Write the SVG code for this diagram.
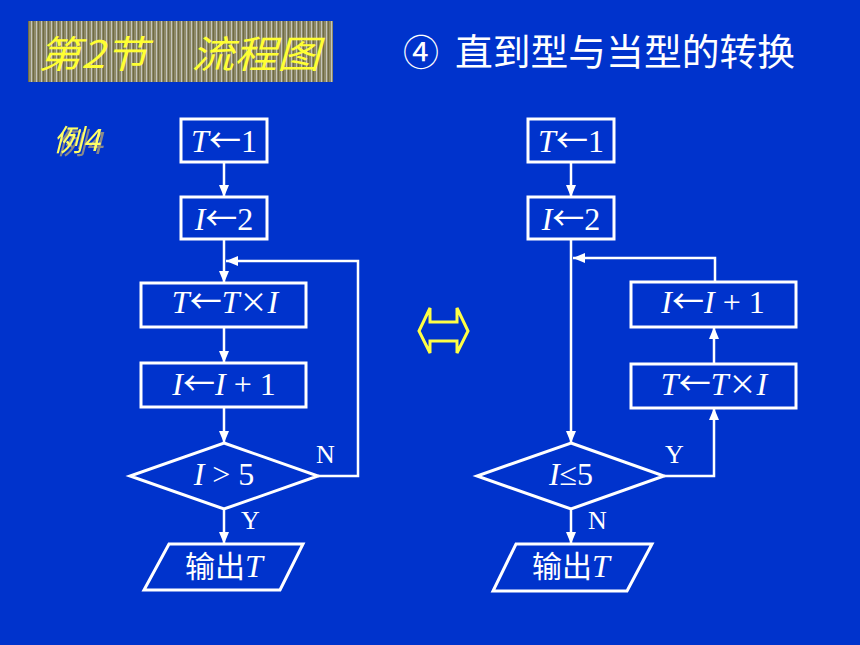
<svg xmlns="http://www.w3.org/2000/svg" width="860" height="645" viewBox="0 0 860 645">
<defs>
<pattern id="stripes" x="0" y="0" width="5" height="10" patternUnits="userSpaceOnUse">
<rect width="5" height="10" fill="#8e8a68"/>
<rect x="1" width="1" height="10" fill="#c4c4bc"/>
<rect x="3" width="1" height="10" fill="#6f6b45"/>
</pattern>
<filter id="shadow" x="-20%" y="-20%" width="140%" height="140%">
<feOffset in="SourceAlpha" dx="3" dy="3" result="off"/>
<feFlood flood-color="#8a8a8a"/>
<feComposite in2="off" operator="in" result="sh"/>
<feMerge><feMergeNode in="sh"/><feMergeNode in="SourceGraphic"/></feMerge>
</filter>
<marker id="ah" viewBox="0 0 12 10" refX="12" refY="5" markerWidth="12" markerHeight="10" markerUnits="userSpaceOnUse" orient="auto">
<path d="M0,0 L12,5 L0,10 z" fill="#ffffff"/>
</marker>
</defs>
<style>
.box{fill:none;stroke:#ffffff;stroke-width:3}
.con{fill:none;stroke:#ffffff;stroke-width:2.5}
.t{font-family:"Liberation Serif","Times New Roman",serif;font-size:32px;fill:#ffffff;text-anchor:middle}
.i{font-style:italic}
.a{font-family:"Noto Sans CJK SC",sans-serif;font-size:32px}
.x{font-family:"Noto Sans CJK SC",sans-serif;font-size:28px}
.cn{font-family:"Noto Sans CJK SC","Noto Sans",sans-serif}
.lab{font-family:"Liberation Serif","Times New Roman",serif;font-size:26px;fill:#ffffff}
</style>
<rect width="860" height="645" fill="#0033cc"/>

<g id="title">
<rect x="28" y="21" width="305" height="61" fill="url(#stripes)"/>
<text x="38" y="68" font-family="Noto Sans CJK SC,sans-serif" font-size="38" font-style="italic" fill="#ffff33" textLength="282" lengthAdjust="spacingAndGlyphs">第2节　流程图</text>
</g>

<g id="heading">
<text x="403" y="66" font-family="Noto Sans CJK SC,sans-serif" font-size="36" fill="#ffffff">④</text>
<text x="455" y="66" font-family="Noto Sans CJK SC,sans-serif" font-size="37" fill="#ffffff" textLength="340" lengthAdjust="spacingAndGlyphs">直到型与当型的转换</text>
</g>

<g id="example">
<text x="53" y="151" font-family="Noto Sans CJK SC,sans-serif" font-size="30" font-style="italic" fill="#ffff66" filter="url(#shadow)">例4</text>
</g>

<g id="dbl-arrow">
<polygon points="419,331 430,308 430,322 457,322 457,308 468,331 457,353 457,341 430,341 430,353" fill="#0033cc" stroke="#ffff44" stroke-width="3" stroke-linejoin="miter"/>
</g>

<!-- Left flowchart -->
<g id="L-T1">
<rect class="box" x="181" y="119" width="86" height="43"/>
<text class="t" x="224" y="152"><tspan class="i">T</tspan><tspan class="a">←</tspan>1</text>
</g>
<g id="L-I2">
<rect class="box" x="181" y="197" width="86" height="42"/>
<text class="t" x="224" y="230"><tspan class="i">I</tspan><tspan class="a">←</tspan>2</text>
</g>
<g id="L-TTI">
<rect class="box" x="141" y="283" width="165" height="44"/>
<text class="t" x="225" y="313"><tspan class="i">T</tspan><tspan class="a">←</tspan><tspan class="i">T</tspan><tspan class="x">×</tspan><tspan class="i">I</tspan></text>
</g>
<g id="L-II1">
<rect class="box" x="141" y="363" width="165" height="44"/>
<text class="t" x="224" y="395"><tspan class="i">I</tspan><tspan class="a">←</tspan><tspan class="i">I</tspan> + 1</text>
</g>
<g id="L-cond">
<polygon class="box" points="224,443 318,476 224,509 130,476"/>
<text class="t" x="224" y="485"><tspan class="i">I</tspan> &gt; 5</text>
</g>
<g id="L-out">
<polygon class="box" points="169,544 303,544 280,590 144,590"/>
<text class="t" x="224" y="577"><tspan class="cn" font-size="30">输出</tspan><tspan class="i">T</tspan></text>
</g>

<!-- Right flowchart -->
<g id="R-T1">
<rect class="box" x="528" y="119" width="86" height="43"/>
<text class="t" x="571" y="152"><tspan class="i">T</tspan><tspan class="a">←</tspan>1</text>
</g>
<g id="R-I2">
<rect class="box" x="528" y="197" width="86" height="42"/>
<text class="t" x="571" y="230"><tspan class="i">I</tspan><tspan class="a">←</tspan>2</text>
</g>
<g id="R-II1">
<rect class="box" x="631" y="282" width="165" height="45"/>
<text class="t" x="713" y="313"><tspan class="i">I</tspan><tspan class="a">←</tspan><tspan class="i">I</tspan> + 1</text>
</g>
<g id="R-TTI">
<rect class="box" x="631" y="364" width="165" height="44"/>
<text class="t" x="714" y="395"><tspan class="i">T</tspan><tspan class="a">←</tspan><tspan class="i">T</tspan><tspan class="x">×</tspan><tspan class="i">I</tspan></text>
</g>
<g id="R-cond">
<polygon class="box" points="571,443 664,476 571,509 477,476"/>
<text class="t" x="571" y="485"><tspan class="i">I</tspan>≤5</text>
</g>
<g id="R-out">
<polygon class="box" points="516,544 652,544 627,591 493,591"/>
<text class="t" x="571" y="577"><tspan class="cn" font-size="30">输出</tspan><tspan class="i">T</tspan></text>
</g>

<g id="connectors">
<line class="con" x1="224" y1="162" x2="224" y2="197" marker-end="url(#ah)"/>
<line class="con" x1="224" y1="239" x2="224" y2="283" marker-end="url(#ah)"/>
<line class="con" x1="224" y1="327" x2="224" y2="363" marker-end="url(#ah)"/>
<line class="con" x1="224" y1="407" x2="224" y2="443" marker-end="url(#ah)"/>
<line class="con" x1="224" y1="509" x2="224" y2="544" marker-end="url(#ah)"/>
<polyline class="con" points="318,476 358,476 358,261 226,261" marker-end="url(#ah)"/>
<text class="lab" x="316" y="463">N</text>
<text class="lab" x="241" y="529">Y</text>

<line class="con" x1="571" y1="162" x2="571" y2="197" marker-end="url(#ah)"/>
<line class="con" x1="571" y1="239" x2="571" y2="443" marker-end="url(#ah)"/>
<line class="con" x1="571" y1="509" x2="571" y2="544" marker-end="url(#ah)"/>
<polyline class="con" points="664,476 714,476 714,408" marker-end="url(#ah)"/>
<line class="con" x1="714" y1="364" x2="714" y2="327" marker-end="url(#ah)"/>
<polyline class="con" points="715,282 715,258 573,258" marker-end="url(#ah)"/>
<text class="lab" x="665" y="463">Y</text>
<text class="lab" x="588" y="529">N</text>
</g>
</svg>
